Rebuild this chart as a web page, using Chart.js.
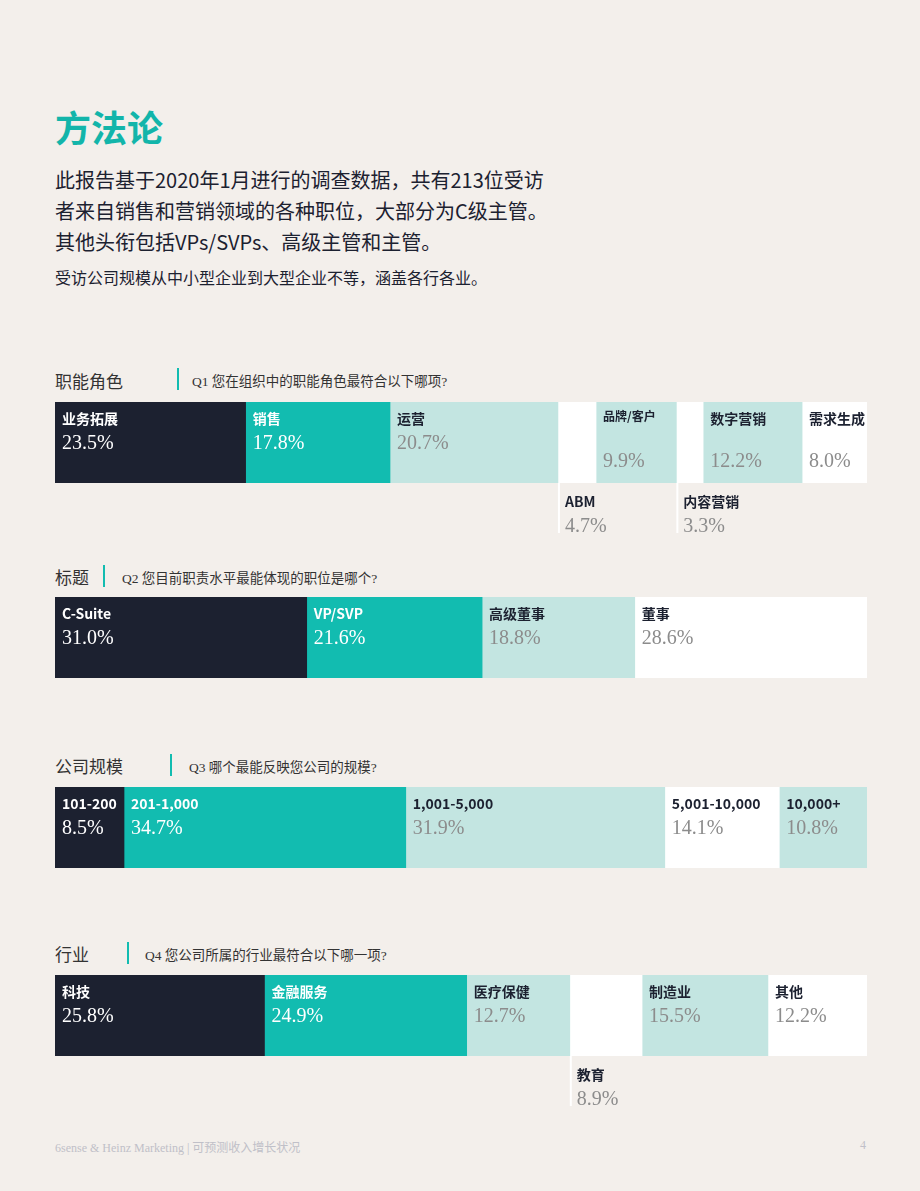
<!DOCTYPE html>
<html><head><meta charset="utf-8">
<script src="https://cdn.jsdelivr.net/npm/chart.js@4"></script>
<style>
body{margin:0;background:#f3efeb;font-family:"Noto Sans CJK SC",sans-serif;color:#1c2130}
.page{position:relative;width:920px;height:1191px}
.abs{position:absolute;white-space:nowrap}
h1{position:absolute;left:55px;top:100px;margin:0;font-size:36px;color:#12b5aa;font-weight:700}
.intro{left:55px;top:164px;font-size:20px;line-height:31px;color:#1c2130}
.sub{left:55px;top:265px;font-size:16px}
.sec{font-size:17px;color:#333}
.q{font-size:13.5px;font-family:"Liberation Serif","Noto Sans CJK SC",serif;color:#333}
.bar{position:absolute;left:55px;width:2px;height:22px;background:#12bcb0}
.foot{font-family:"Liberation Serif","Noto Sans CJK SC",serif;font-size:12px;color:#c0c0c8;top:1138px}
canvas{position:absolute;left:55px}
</style></head><body><div class="page">
<h1>方法论</h1>
<div class="abs intro">此报告基于2020年1月进行的调查数据，共有213位受访<br>者来自销售和营销领域的各种职位，大部分为C级主管。<br>其他头衔包括VPs/SVPs、高级主管和主管。</div>
<div class="abs sub">受访公司规模从中小型企业到大型企业不等，涵盖各行各业。</div>

<div class="abs sec" style="left:55px;top:368px">职能角色</div><div class="bar" style="left:177px;top:368px"></div><div class="abs q" style="left:192px;top:370px">Q1 您在组织中的职能角色最符合以下哪项?</div>
<div class="abs sec" style="left:55px;top:564px">标题</div><div class="bar" style="left:103px;top:565px"></div><div class="abs q" style="left:122px;top:567px">Q2 您目前职责水平最能体现的职位是哪个?</div>
<div class="abs sec" style="left:55px;top:753px">公司规模</div><div class="bar" style="left:170px;top:754px"></div><div class="abs q" style="left:189px;top:756px">Q3 哪个最能反映您公司的规模?</div>
<div class="abs sec" style="left:55px;top:941px">行业</div><div class="bar" style="left:127px;top:942px"></div><div class="abs q" style="left:145px;top:944px">Q4 您公司所属的行业最符合以下哪一项?</div>

<canvas id="c1" width="812" height="140" style="top:402px"></canvas>
<canvas id="c2" width="812" height="140" style="top:597px"></canvas>
<canvas id="c3" width="812" height="140" style="top:787px"></canvas>
<canvas id="c4" width="812" height="140" style="top:975px"></canvas>

<div class="abs foot" style="left:55px">6sense &amp; Heinz Marketing | 可预测收入增长状况</div>
<div class="abs foot" style="left:860px">4</div>
</div>
<script>
const q1Labels = ['业务拓展','销售','运营','ABM','品牌/客户','内容营销','数字营销','需求生成'];
const q1Values = [23.5,17.8,20.7,4.7,9.9,3.3,12.2,8.0];
const q2Labels = ['C-Suite','VP/SVP','高级董事','董事'];
const q2Values = [31.0,21.6,18.8,28.6];
const q3Labels = ['101-200','201-1,000','1,001-5,000','5,001-10,000','10,000+'];
const q3Values = [8.5,34.7,31.9,14.1,10.8];
const q4Labels = ['科技','金融服务','医疗保健','教育','制造业','其他'];
const q4Values = [25.8,24.9,12.7,8.9,15.5,12.2];

const FILL = {dark:'#1c2130', teal:'#12bcb0', light:'#c3e5e1', white:'#ffffff'};

const labelPlugin = {
  id: 'segLabels',
  afterDatasetsDraw(chart) {
    const ctx = chart.ctx;
    const o = chart.options.plugins.segLabels;
    chart.data.datasets.forEach((ds, i) => {
      const el = chart.getDatasetMeta(i).data[0];
      const left = Math.min(el.base, el.x), top = el.y - el.height / 2, bottom = el.y + el.height / 2;
      const onDark = ds.fillName === 'dark' || ds.fillName === 'teal';
      const below = o.below.includes(i);
      let ny = top + 22, py = top + 47;
      if (below) {
        ctx.fillStyle = '#ffffff';
        ctx.fillRect(left, bottom, 2, 50);
        ny = bottom + 24; py = bottom + 49;
      } else if (o.low.includes(i)) {
        py = top + 65;
      }
      ctx.save();
      ctx.textBaseline = 'alphabetic';
      ctx.fillStyle = onDark ? '#ffffff' : '#1c2130';
      ctx.font = (o.small.includes(i) ? '600 12px' : '600 14px') + ' "Noto Sans CJK SC", sans-serif';
      ctx.fillText(ds.label, left + 7, o.small.includes(i) ? top + 19 : ny);
      ctx.fillStyle = onDark ? '#ffffff' : '#8c8c8c';
      ctx.font = '20px "Liberation Serif", serif';
      ctx.fillText(ds.data[0].toFixed(1) + '%', left + 7, py);
      ctx.restore();
    });
  }
};

function drawBar(id, labels, values, fills, below, low, small) {
  const total = values.reduce((a, b) => a + b, 0);
  new Chart(document.getElementById(id), {
    type: 'bar',
    data: {
      labels: [''],
      datasets: labels.map((l, i) => ({
        label: l, data: [values[i]], fillName: fills[i],
        backgroundColor: FILL[fills[i]], borderWidth: 0,
        barPercentage: 1, categoryPercentage: 1
      }))
    },
    options: {
      indexAxis: 'y', responsive: false, animation: false,
      layout: { padding: { left: 0, right: 0, top: 0, bottom: 59 } },
      scales: {
        x: { stacked: true, min: 0, max: total, display: false },
        y: { stacked: true, display: false }
      },
      plugins: { legend: { display: false }, tooltip: { enabled: false },
        segLabels: { below: below, low: low, small: small } }
    },
    plugins: [labelPlugin]
  });
}

drawBar('c1', q1Labels, q1Values, ['dark','teal','light','white','light','white','light','white'], [3,5], [4,6,7], [4]);
drawBar('c2', q2Labels, q2Values, ['dark','teal','light','white'], [], [], []);
drawBar('c3', q3Labels, q3Values, ['dark','teal','light','white','light'], [], [], []);
drawBar('c4', q4Labels, q4Values, ['dark','teal','light','white','light','white'], [3], [], []);
</script>
</body></html>
